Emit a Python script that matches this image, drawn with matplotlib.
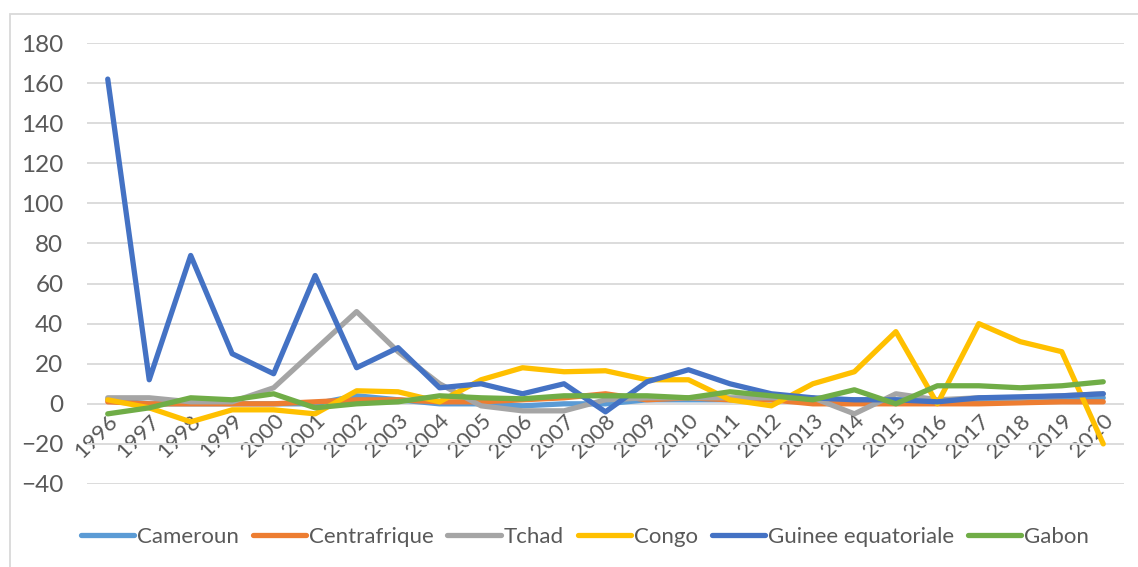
import matplotlib
matplotlib.use("Agg")
import matplotlib.pyplot as plt
from matplotlib.patches import Rectangle

years = [str(y) for y in range(1996, 2021)]

cameroun = [2, 0, 0, 0, 0, 0, 4, 2, 0, 0, -1, 0, 0, 2, 2, 2, 2, 2, 2, 2, 1, 2, 2, 3, 3]
centrafrique = [1, 0, 0, 0, 0, 1, 2, 2, 1, 1, 2, 3, 5, 2, 3, 2, 2, 0, 0, 0, 0, 0, 0.5, 1, 1]
tchad = [3, 3, 1, 1, 8, 27, 46, 26, 10, -1, -3.5, -3.5, 2, 3, 3, 3, 3, 3, -5, 5, 2, 3, 3, 4, 5]
congo = [2, -2, -9, -3, -3, -5, 6.5, 6, 1, 12, 18, 16, 16.5, 12, 12, 2, -1, 10, 16, 36, 0, 40, 31, 26, -20]
guinee = [162, 12, 74, 25, 15, 64, 18, 28, 8, 10, 5, 10, -4, 11, 17, 10, 5, 3, 2, 2, 1, 3, 3.5, 4, 5]
gabon = [-5, -2, 3, 2, 5, -2, 0, 1, 4, 3, 2.5, 4, 4, 4, 3, 6, 4, 2, 7, 0, 9, 9, 8, 9, 11]

series = [
    ("Cameroun", cameroun, "#5B9BD5"),
    ("Centrafrique", centrafrique, "#ED7D31"),
    ("Tchad", tchad, "#A5A5A5"),
    ("Congo", congo, "#FFC000"),
    ("Guinee equatoriale", guinee, "#4472C4"),
    ("Gabon", gabon, "#70AD47"),
]

plt.rcParams['font.family'] = ['Lato', 'DejaVu Sans']

fig = plt.figure(figsize=(11.38, 5.67), dpi=100)
ax = fig.add_axes([87 / 1138, 1 - 484 / 567, (1124 - 87) / 1138, (484 - 43) / 567])

x = list(range(len(years)))
for name, vals, col in series:
    ax.plot(x, vals, color=col, lw=3.8, label=name, solid_capstyle='round', solid_joinstyle='round')

ax.set_xlim(-0.5, len(years) - 0.5)
ax.set_ylim(-40, 180)
ax.set_yticks(range(-40, 181, 20))
ax.grid(axis='y', color='#D9D9D9', lw=1.3)
ax.set_axisbelow(True)
for s in ax.spines.values():
    s.set_visible(False)
ax.spines['bottom'].set_position(('data', 0))
ax.tick_params(axis='both', length=0, labelcolor='#595959', labelsize=16)
ax.tick_params(axis='y', pad=17, labelsize=17.5)
ax.set_xticks(x)
ax.set_xticklabels(years, rotation=45, ha='right', va='top', rotation_mode='anchor')
ax.tick_params(axis='x', pad=5)

leg = ax.legend(loc='center', bbox_to_anchor=(585 / 1138, 1 - 537 / 567),
                bbox_transform=fig.transFigure, ncol=6, frameon=False,
                fontsize=16, handlelength=2.4, handletextpad=0.15, columnspacing=0.6)
for t in leg.get_texts():
    t.set_color('#595959')
for h in leg.get_lines():
    h.set_linewidth(3.8)

fig.patches.append(Rectangle((10 / 1138, -0.1), 1.2, 1.1 - 14 / 567, transform=fig.transFigure,
                             fill=False, edgecolor='#D9D9D9', lw=1.3))

fig.savefig("out.png", dpi=100)
